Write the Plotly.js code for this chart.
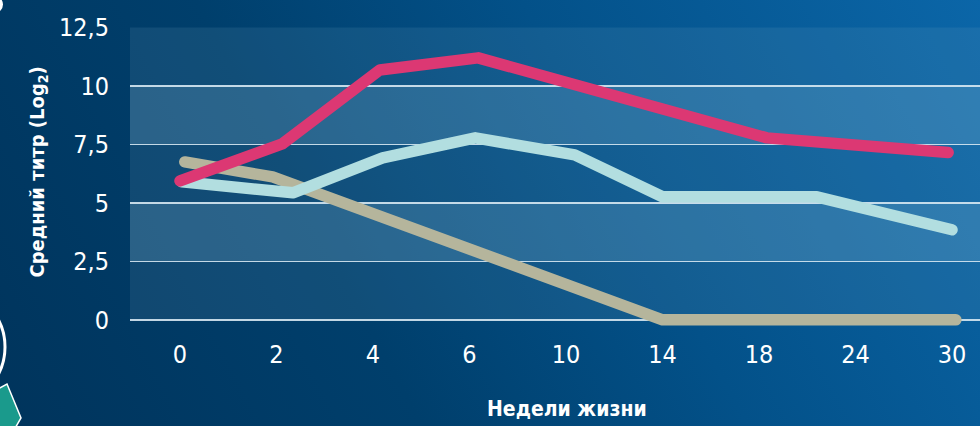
<!DOCTYPE html>
<html>
<head>
<meta charset="utf-8">
<script src="https://cdn.plot.ly/plotly-3.0.1.min.js"></script>
<style>
  html, body { margin: 0; padding: 0; }
  body {
    width: 980px; height: 426px; overflow: hidden;
    background: linear-gradient(62deg, #00345c 0%, #003f6c 35%, #035189 62%, #0b66a8 100%);
  }
  #chart { width: 980px; height: 426px; }
  path.js-line { stroke-linecap: round; stroke-linejoin: round; }
</style>
</head>
<body>
<div id="chart"></div>
<script>
// ---- data ----
const categories = ['0', '2', '4', '6', '10', '14', '18', '24', '30'];   // недели жизни
const yTickVals  = [0, 2.5, 5, 7.5, 10, 12.5];
const yTickText  = ['0', '2,5', '5', '7,5', '10', '12,5'];

// positions along the category axis (category index) and mean titre values
const pinkX  = [0, 1.06, 2.07, 3.09, 6.08, 7.96];
const pinkY  = [5.94, 7.52, 10.68, 11.2, 7.78, 7.15];

const cyanX  = [0.02, 1.17, 2.10, 3.06, 4.09, 5.0, 6.6, 8.0];
const cyanY  = [5.9, 5.43, 6.92, 7.78, 7.05, 5.26, 5.26, 3.85];

const greyX  = [0.05, 0.96, 5.0, 8.04];
const greyY  = [6.75, 6.11, 0, 0];

// ---- layout helpers (pixel -> paper for decorations) ----
const W = 980, H = 426, ML = 130, MR = 0, MT = 27, MB = 98;
const pw = W - ML - MR, ph = H - MT - MB;
const px = v => (v - ML) / pw;
const py = v => (H - MB - v) / ph;

const traces = [
  { x: greyX, y: greyY, type: 'scatter', mode: 'lines',
    line: { color: '#b5b59c', width: 11.5 }, hoverinfo: 'skip' },
  { x: cyanX, y: cyanY, type: 'scatter', mode: 'lines',
    line: { color: '#b2dee0', width: 11.5 }, hoverinfo: 'skip' },
  { x: pinkX, y: pinkY, type: 'scatter', mode: 'lines',
    line: { color: '#dc3873', width: 11.5 }, hoverinfo: 'skip' }
];

const bandShapes = [];
for (let i = 0; i < yTickVals.length - 1; i++) {
  bandShapes.push({
    type: 'rect', xref: 'paper', yref: 'y', layer: 'below',
    x0: 0, x1: 1, y0: yTickVals[i], y1: yTickVals[i + 1],
    line: { width: 0 },
    fillcolor: (i % 2 === 0) ? 'rgba(120,170,200,0.14)' : 'rgba(140,190,215,0.30)'
  });
}

const decoShapes = [
  { type: 'circle', xref: 'paper', yref: 'paper',
    x0: px(-111), x1: px(5), y0: py(405), y1: py(289),
    line: { color: '#ffffff', width: 3 }, fillcolor: 'rgba(0,0,0,0)' },
  { type: 'path', xref: 'paper', yref: 'paper',
    path: `M ${px(-4)} ${py(390)} L ${px(7)} ${py(384)} L ${px(21)} ${py(418)} L ${px(14)} ${py(430)} L ${px(-4)} ${py(430)} Z`,
    line: { color: '#ffffff', width: 1.5 }, fillcolor: '#1a9a8c' },
  { type: 'circle', xref: 'paper', yref: 'paper',
    x0: px(-14), x1: px(3), y0: py(13), y1: py(-4),
    line: { width: 0 }, fillcolor: '#ffffff' }
];

const layout = {
  width: W, height: H,
  margin: { l: ML, r: MR, t: MT, b: MB, pad: 0 },
  paper_bgcolor: 'rgba(0,0,0,0)',
  plot_bgcolor: 'rgba(0,0,0,0)',
  showlegend: false,
  font: { family: '"Liberation Sans Narrow", "DejaVu Sans Condensed", "Roboto", sans-serif', color: '#ffffff' },
  xaxis: {
    range: [-0.518, 8.29],
    tickvals: categories.map((c, i) => i),
    ticktext: categories,
    showgrid: false, zeroline: false, showline: false, ticks: '',
    ticklabelstandoff: 9,
    tickfont: { size: 25, color: '#ffffff' },
    fixedrange: true
  },
  yaxis: {
    range: [-0.35, 12.52],
    tickvals: yTickVals,
    ticktext: yTickText,
    showgrid: true, gridcolor: 'rgba(215,232,242,0.9)', gridwidth: 1.6,
    zeroline: false, showline: false, ticks: '',
    ticklabelstandoff: 20,
    tickfont: { size: 25, color: '#ffffff' },
    fixedrange: true
  },
  shapes: bandShapes.concat(decoShapes),
  annotations: [
    { text: '<b>Средний титр (Log<sub>2</sub>)</b>', textangle: -90,
      xref: 'paper', yref: 'paper', x: 0, y: 0.5, xanchor: 'center', yanchor: 'middle',
      xshift: -93, yshift: 5, showarrow: false,
      font: { size: 20, color: '#ffffff' } },
    { text: '<b>Недели жизни</b>',
      xref: 'paper', yref: 'paper', x: 0.5, y: 0, xanchor: 'center', yanchor: 'middle',
      xshift: 12, yshift: -81, showarrow: false,
      font: { size: 21, color: '#ffffff' } }
  ]
};

Plotly.newPlot('chart', traces, layout, { displayModeBar: false, staticPlot: true });
</script>
</body>
</html>
